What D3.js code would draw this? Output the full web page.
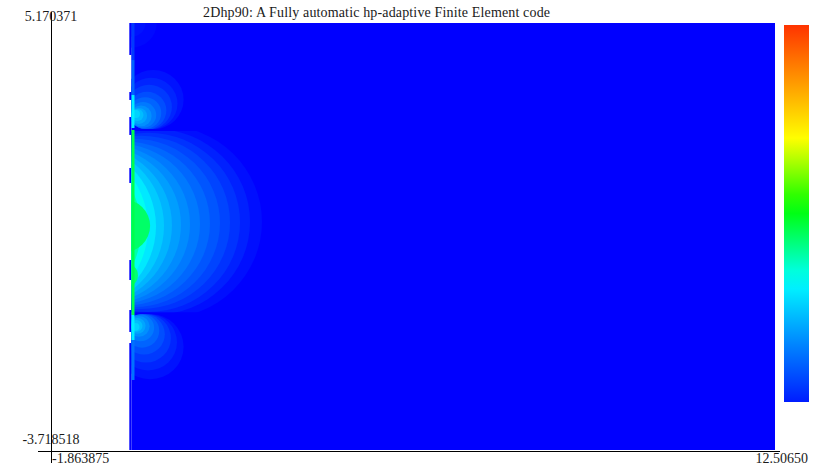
<!DOCTYPE html>
<html>
<head>
<meta charset="utf-8">
<script src="https://cdn.jsdelivr.net/npm/d3@7/dist/d3.min.js"></script>
<style>
  html, body { margin: 0; padding: 0; background: #ffffff; }
  svg { display: block; }
  text { font-family: "Liberation Serif", "DejaVu Serif", serif; fill: #1a1a1a; }
</style>
</head>
<body>
<script>
// ---- view extents and labels ----
const xExtent = [-1.863875, 12.50650];
const yExtent = [-3.718518, 5.170371];
const xTickLabels = ["-1.863875", "12.50650"];
const yTickLabels = ["5.170371", "-3.718518"];
const titleText = "2Dhp90: A Fully automatic hp-adaptive Finite Element code";

// ---- computational domain ----
const meshX = [-0.277, 12.408];
const meshY = [-3.678, 4.948];
// elements whose left side sits a little further out
const notchX = -0.320;
const notchY = [
  [4.948, 4.302], [3.554, 3.393], [3.049, 2.686], [2.019, 1.716],
  [0.160, -0.244], [-0.850, -1.294], [-1.517, -3.678]
];
// zero lines of the solution between the lobes
const nullY = [2.787, -0.915];

// ---- solution level sets: [cx, cy, r, level] (level on 0..1 colour scale) ----
const cornerLobe = [
  [-0.28, 4.95, 0.50, 0.012],
  [-0.28, 4.95, 0.28, 0.025]
];
const topLobe = [
  [0.15, 3.40, 0.60, 0.025],
  [0.11, 3.32, 0.52, 0.05],
  [0.07, 3.25, 0.45, 0.08],
  [0.03, 3.18, 0.38, 0.11],
  [-0.01, 3.13, 0.32, 0.14],
  [-0.05, 3.09, 0.26, 0.17],
  [-0.09, 3.07, 0.21, 0.20],
  [-0.13, 3.07, 0.16, 0.23],
  [-0.16, 3.09, 0.12, 0.26],
  [-0.19, 3.11, 0.08, 0.29]
];
const midLobe = [
  [0.344, 0.93, 1.951, 0.02],
  [0.182, 0.93, 1.877, 0.045],
  [0.052, 0.92, 1.810, 0.07],
  [-0.085, 0.92, 1.750, 0.095],
  [-0.234, 0.91, 1.701, 0.12],
  [-0.383, 0.90, 1.653, 0.145],
  [-0.550, 0.89, 1.623, 0.17],
  [-0.729, 0.88, 1.605, 0.195],
  [-0.896, 0.87, 1.595, 0.22],
  [-1.089, 0.86, 1.610, 0.25],
  [-1.275, 0.85, 1.639, 0.28],
  [-1.477, 0.84, 1.683, 0.32],
  [-1.715, 0.82, 1.763, 0.36],
  [-1.895, 0.80, 1.805, 0.41],
  [-0.45, 0.85, 0.54, 0.46],
  [-0.40, -0.15, 0.25, 0.45]
];
const lowLobe = [
  [0.09, -1.59, 0.66, 0.025],
  [0.05, -1.50, 0.57, 0.05],
  [0.01, -1.42, 0.49, 0.08],
  [-0.03, -1.34, 0.41, 0.11],
  [-0.07, -1.27, 0.34, 0.14],
  [-0.10, -1.21, 0.27, 0.17],
  [-0.13, -1.18, 0.21, 0.20],
  [-0.16, -1.17, 0.16, 0.23],
  [-0.18, -1.17, 0.12, 0.26],
  [-0.20, -1.19, 0.08, 0.29]
];
// values along the boundary elements: [yTop, yBottom, level]
const edgeStrip = [
  [4.948, 4.200, 0.08],
  [4.200, 3.494, 0.14],
  [3.494, 2.827, 0.33],
  [2.787, -0.951, 0.48],
  [-0.951, -1.456, 0.33],
  [-1.456, -2.264, 0.16]
];
const edgeStripX = [-0.277, -0.218];
// colour bar level range
const barLevels = [0.04, 1];

// ---- drawing ----
const W = 813, H = 474;
const x = d3.scaleLinear().domain(xExtent).range([51, 780]);
const y = d3.scaleLinear().domain(yExtent).range([452, 12]);
const color = d3.scaleLinear()
  .domain([0, 0.18, 0.35, 0.535, 0.71, 1])
  .range(["#0000ff", "#0080ff", "#00ffff", "#00ff00", "#ffff00", "#ff3300"]);

const svg = d3.select("body").append("svg").attr("width", W).attr("height", H);
const defs = svg.append("defs");

// domain background (level 0)
svg.append("rect")
  .attr("x", x(meshX[0])).attr("y", y(meshY[1]))
  .attr("width", x(meshX[1]) - x(meshX[0]))
  .attr("height", y(meshY[0]) - y(meshY[1]))
  .attr("fill", color(0));

svg.append("g").selectAll("rect").data(notchY).join("rect")
  .attr("x", x(notchX))
  .attr("y", d => y(d[0]))
  .attr("width", x(meshX[0]) - x(notchX))
  .attr("height", d => y(d[1]) - y(d[0]))
  .attr("fill", color(0));

// each lobe lives between the zero lines
function lobe(id, data, yLo, yHi, gapLo, gapHi) {
  const top = y(yHi) + gapHi, bot = y(yLo) - gapLo;
  defs.append("clipPath").attr("id", id).append("rect")
    .attr("x", x(meshX[0])).attr("y", top)
    .attr("width", x(meshX[1]) - x(meshX[0]))
    .attr("height", bot - top);
  svg.append("g").attr("clip-path", `url(#${id})`)
    .selectAll("ellipse").data(data.slice().sort((a, b) => a[3] - b[3])).join("ellipse")
    .attr("cx", d => x(d[0]))
    .attr("cy", d => y(d[1]))
    .attr("rx", d => x(d[0] + d[2]) - x(d[0]))
    .attr("ry", d => y(d[1] - d[2]) - y(d[1]))
    .attr("fill", d => color(d[3]));
}
lobe("clip-corner", cornerLobe, nullY[0], meshY[1], 1, 0);
lobe("clip-top", topLobe, nullY[0], meshY[1], 1, 0);
lobe("clip-mid", midLobe, nullY[1], nullY[0], 1, 1);
lobe("clip-low", lowLobe, meshY[0], nullY[1], 0, 1);

svg.append("g").selectAll("rect").data(edgeStrip).join("rect")
  .attr("x", x(edgeStripX[0]))
  .attr("y", d => y(d[0]))
  .attr("width", x(edgeStripX[1]) - x(edgeStripX[0]))
  .attr("height", d => y(d[1]) - y(d[0]))
  .attr("fill", d => color(d[2]));

// colour bar
const grad = defs.append("linearGradient").attr("id", "bar")
  .attr("x1", 0).attr("y1", 1).attr("x2", 0).attr("y2", 0);
const barScale = d3.scaleLinear().domain([0, 1]).range(barLevels);
d3.range(0, 1.0001, 0.05).forEach(t => {
  grad.append("stop").attr("offset", t).attr("stop-color", color(barScale(t)));
});
svg.append("rect")
  .attr("x", 784).attr("y", 25).attr("width", 25).attr("height", 377)
  .attr("fill", "url(#bar)");

// frame lines
svg.append("line")
  .attr("x1", x(xExtent[0]) + 0.5).attr("x2", x(xExtent[0]) + 0.5)
  .attr("y1", y(yExtent[1])).attr("y2", y(yExtent[0]) + 11)
  .attr("stroke", "#000").attr("stroke-width", 1);
svg.append("line")
  .attr("x1", x(xExtent[0]) - 13).attr("x2", x(xExtent[1]))
  .attr("y1", y(yExtent[0]) - 0.5).attr("y2", y(yExtent[0]) - 0.5)
  .attr("stroke", "#000").attr("stroke-width", 1);

// extent labels
svg.append("text").attr("x", x(xExtent[0])).attr("y", y(yExtent[1]) + 9)
  .attr("text-anchor", "middle").attr("font-size", 14).text(yTickLabels[0]);
svg.append("text").attr("x", x(xExtent[0])).attr("y", y(yExtent[0]) - 8)
  .attr("text-anchor", "middle").attr("font-size", 14).text(yTickLabels[1]);
svg.append("text").attr("x", x(xExtent[0]) + 1).attr("y", y(yExtent[0]) + 11)
  .attr("text-anchor", "start").attr("font-size", 14).attr("fill", "#333").text(xTickLabels[0]);
svg.append("text").attr("x", 808).attr("y", y(yExtent[0]) + 11)
  .attr("text-anchor", "end").attr("font-size", 14).attr("fill", "#333").text(xTickLabels[1]);

svg.append("text").attr("x", 203).attr("y", 17)
  .attr("text-anchor", "start").attr("font-size", 14)
  .attr("textLength", 347).attr("lengthAdjust", "spacing").text(titleText);
</script>
</body>
</html>
